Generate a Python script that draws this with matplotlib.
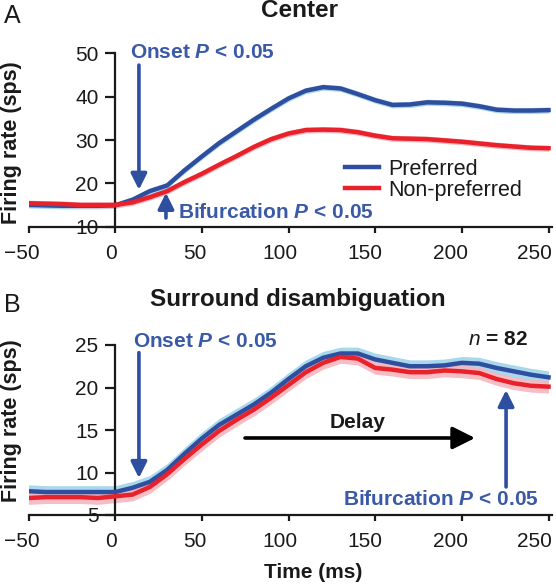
import matplotlib
matplotlib.use("Agg")
import matplotlib.pyplot as plt
import matplotlib.transforms as mtransforms
import numpy as np

plt.rcParams['font.family'] = ['Liberation Sans', 'DejaVu Sans']
plt.rcParams['mathtext.fontset'] = 'custom'
plt.rcParams['mathtext.rm'] = 'Liberation Sans'
plt.rcParams['mathtext.it'] = 'Liberation Sans:italic'
plt.rcParams['mathtext.bf'] = 'Liberation Sans:bold'
plt.rcParams['mathtext.bfit'] = 'Liberation Sans:italic:bold'
plt.rcParams['axes.unicode_minus'] = True

# ---------------- data ----------------
time_ms = [-50, -40, -30, -20, -10, 0, 10, 20, 30, 40, 50, 60, 70, 80, 90, 100,
           110, 120, 130, 140, 150, 160, 170, 180, 190, 200, 210, 220, 230, 240, 250]

center_pref = [15.0, 14.9, 14.8, 14.8, 14.8, 14.9, 16.2, 18.2, 19.5, 23.0, 26.2, 29.3,
               32.0, 34.7, 37.2, 39.6, 41.4, 42.2, 41.9, 40.6, 39.2, 38.1, 38.2, 38.7,
               38.6, 38.4, 37.8, 37.0, 36.8, 36.8, 36.9]
center_nonpref = [15.4, 15.3, 15.2, 15.0, 15.0, 15.0, 15.6, 16.8, 18.2, 20.3, 22.2, 24.3,
                  26.3, 28.4, 30.2, 31.5, 32.3, 32.4, 32.3, 31.8, 31.0, 30.4, 30.3, 30.2,
                  29.9, 29.6, 29.2, 28.8, 28.5, 28.2, 28.1]

surr_pref = [7.8, 7.7, 7.7, 7.7, 7.7, 7.7, 8.2, 8.9, 10.3, 12.2, 14.0, 15.6, 16.8, 18.0,
             19.4, 21.0, 22.5, 23.5, 24.0, 24.0, 23.3, 22.9, 22.5, 22.5, 22.6, 22.9, 22.8,
             22.3, 21.9, 21.5, 21.2]
surr_nonpref = [7.0, 7.1, 7.1, 7.1, 7.0, 7.2, 7.4, 8.3, 9.8, 11.6, 13.3, 14.9, 16.2, 17.4,
                18.8, 20.3, 21.8, 22.9, 23.6, 23.4, 22.3, 22.1, 21.8, 21.8, 22.0, 21.9, 21.7,
                21.0, 20.5, 20.2, 20.1]

sem_center = 0.7
sem_surround = 0.75

series_labels = ["Preferred", "Non-preferred"]
xticks = [-50, 0, 50, 100, 150, 200, 250]
yticks_center = [10, 20, 30, 40, 50]
yticks_surround = [5, 10, 15, 20, 25]

# annotation values (data coordinates)
onset_A = 13.7
bif_A = 29.3
onset_B = 13.7
bif_B = 225.5
delay_start, delay_end = 74.9, 207.6
n_cells = 82

# ---------------- style ----------------
BLUE = '#2e4f9f'
TBLUE = '#3a5aa8'
RED = '#e8212b'
LBLUE = '#a9d7ec'
LRED = '#f6b6be'
INK = '#1a1a1a'

W, H = 556, 585
fig = plt.figure(figsize=(W / 100, H / 100), dpi=100)

left = 28.5 / W
width = 523.5 / W
axA = fig.add_axes([left, 1 - 226.6 / H, width, 173.2 / H])
axB = fig.add_axes([left, 1 - 515 / H, width, 170 / H])

t = np.array(time_ms)
TICK_FS = 15
label_shift_px = [-7, -4, -7, -9, -10, -11, -14]


def style_axis(ax, ylim, yticks):
    ax.set_xlim(-50, 252)
    ax.set_ylim(*ylim)
    ax.spines['top'].set_visible(False)
    ax.spines['right'].set_visible(False)
    ax.spines['left'].set_position(('data', 0))
    ax.spines['left'].set_linewidth(1.6)
    ax.spines['bottom'].set_linewidth(1.6)
    ax.spines['left'].set_color(INK)
    ax.spines['bottom'].set_color(INK)
    ax.set_xticks(xticks)
    ax.set_yticks(yticks)
    ax.tick_params(axis='x', direction='out', length=4, width=1.6, pad=8.5,
                   labelsize=TICK_FS, colors=INK)
    ax.tick_params(axis='y', direction='out', length=7, width=1.6, pad=5,
                   labelsize=TICK_FS, colors=INK)
    for lab, dx in zip(ax.get_xticklabels(), label_shift_px):
        off = mtransforms.ScaledTranslation(dx / 100, 0, fig.dpi_scale_trans)
        lab.set_transform(lab.get_transform() + off)
    ax.patch.set_alpha(0)


# Panel A
pa = np.array(center_pref)
na = np.array(center_nonpref)
axA.fill_between(t, pa - sem_center, pa + sem_center, color=LBLUE, lw=0, zorder=1)
axA.fill_between(t, na - sem_center, na + sem_center, color=LRED, lw=0, zorder=1)
axA.plot(t, pa, color=BLUE, lw=3.2, label=series_labels[0], zorder=3)
axA.plot(t, na, color=RED, lw=3.2, label=series_labels[1], zorder=4)
style_axis(axA, (10, 50), yticks_center)

# Panel B
pb = np.array(surr_pref)
nb = np.array(surr_nonpref)
axB.fill_between(t, pb - sem_surround, pb + sem_surround, color=LBLUE, lw=0, zorder=1)
axB.fill_between(t, nb - sem_surround, nb + sem_surround, color=LRED, lw=0, zorder=1, alpha=0.9)
axB.plot(t, pb, color=BLUE, lw=3.2, zorder=3)
axB.plot(t, nb, color=RED, lw=3.2, zorder=4)
style_axis(axB, (5, 25), yticks_surround)

# Legend
leg = axA.legend(loc='upper left', bbox_to_anchor=(345 / W, 1 - 159 / H),
                 bbox_transform=fig.transFigure, frameon=False, fontsize=15.5,
                 handlelength=1.6, handletextpad=0.4, labelspacing=0.0,
                 borderpad=0, borderaxespad=0)
for txt in leg.get_texts():
    txt.set_color(INK)

arrow_blue = dict(arrowstyle='-|>', color=BLUE, lw=2.6, mutation_scale=24,
                  shrinkA=0, shrinkB=0)
arrow_black = dict(arrowstyle='-|>', color='black', lw=2.6, mutation_scale=34,
                   shrinkA=0, shrinkB=0)
fs = 15

# Panel A annotations
axA.text(8.5, 48.9, r"Onset $\mathbfit{P}$ < 0.05", color=TBLUE, fontsize=fs,
         fontweight='bold', va='baseline', ha='left', clip_on=False)
axA.annotate('', xy=(onset_A, 18.5), xytext=(onset_A, 47.3), arrowprops=arrow_blue)
axA.text(36.2, 11.9, r"Bifurcation $\mathbfit{P}$ < 0.05", color=TBLUE, fontsize=fs,
         fontweight='bold', va='baseline', ha='left')
axA.annotate('', xy=(bif_A, 17.8), xytext=(bif_A, 12.0), arrowprops=arrow_blue)

# Panel B annotations
axB.text(10.3, 24.8, r"Onset $\mathbfit{P}$ < 0.05", color=TBLUE, fontsize=fs,
         fontweight='bold', va='baseline', ha='left', clip_on=False)
axB.annotate('', xy=(onset_B, 9.35), xytext=(onset_B, 24.1), arrowprops=arrow_blue)
axB.text(203.6, 25.0, r"$\mathit{n}$ = %d" % n_cells, color=INK, fontsize=fs,
         fontweight='bold', va='baseline', ha='left', clip_on=False)
axB.annotate('', xy=(delay_end, 14.06), xytext=(delay_start, 14.06), arrowprops=arrow_black)
axB.text(140, 15.2, "Delay", color=INK, fontsize=fs, fontweight='bold',
         va='baseline', ha='center')
axB.text(131.5, 6.2, r"Bifurcation $\mathbfit{P}$ < 0.05", color=TBLUE, fontsize=fs,
         fontweight='bold', va='baseline', ha='left')
axB.annotate('', xy=(bif_B, 19.7), xytext=(bif_B, 8.3), arrowprops=arrow_blue)

# Titles, panel letters, axis labels
fig.text(300 / W, 1 - 17 / H, "Center", fontsize=17.5, fontweight='bold',
         ha='center', va='baseline', color=INK)
fig.text(298 / W, 1 - 306 / H, "Surround disambiguation", fontsize=17.5, fontweight='bold',
         ha='center', va='baseline', color=INK)
fig.text(12 / W, 1 - 16 / H, "A", fontsize=18, ha='center', va='center', color=INK)
fig.text(12 / W, 1 - 305 / H, "B", fontsize=18, ha='center', va='center', color=INK)
fig.text(12 / W, 1 - 143 / H, "Firing rate (sps)", fontsize=15.5, fontweight='bold',
         rotation=90, ha='center', va='center', color=INK)
fig.text(12 / W, 1 - 421 / H, "Firing rate (sps)", fontsize=15.5, fontweight='bold',
         rotation=90, ha='center', va='center', color=INK)
fig.text(313 / W, 1 - 578 / H, "Time (ms)", fontsize=15, fontweight='bold',
         ha='center', va='baseline', color=INK)

fig.savefig("out.png", dpi=100)
